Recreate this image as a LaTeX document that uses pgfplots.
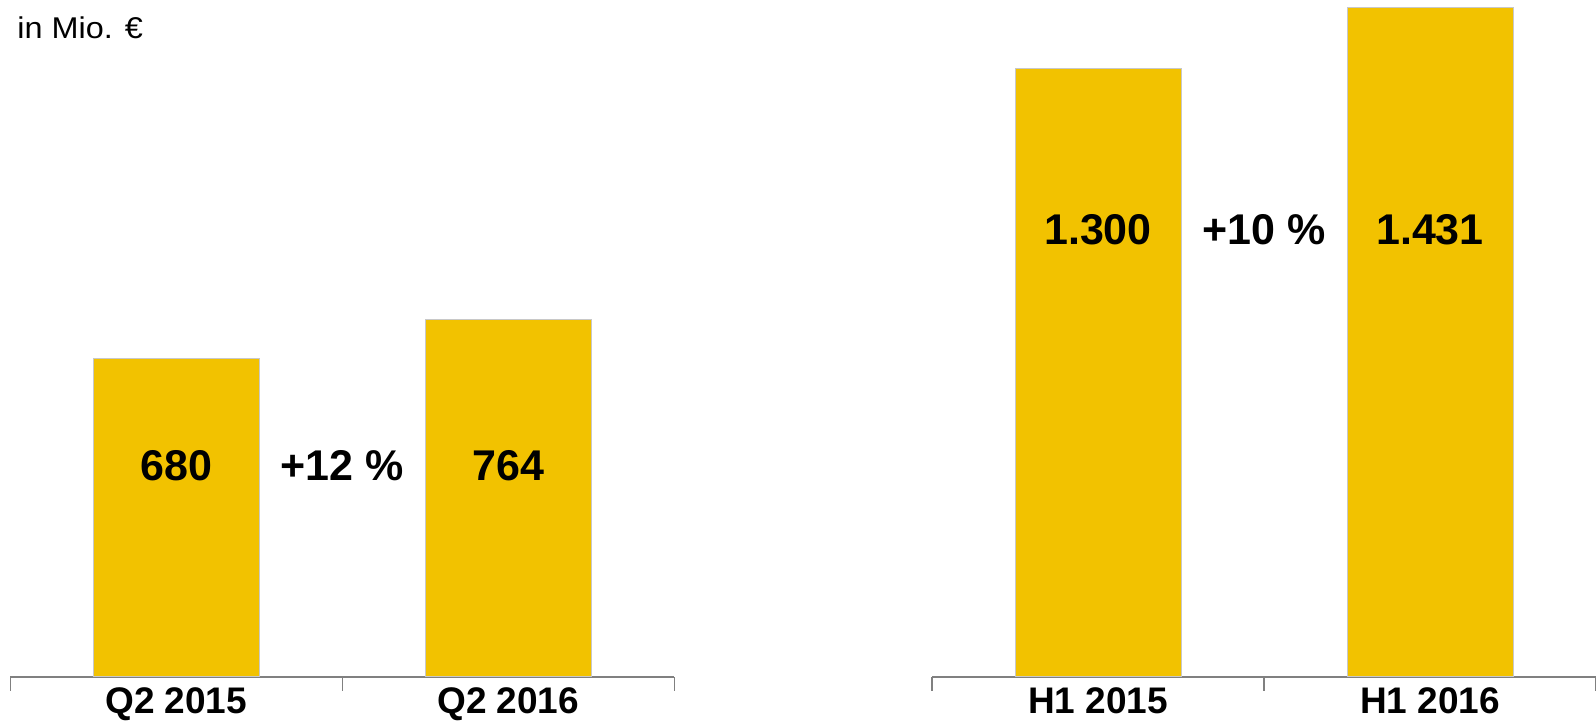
\documentclass[border=0pt]{standalone}
\usepackage{pgfplots}
\pgfplotsset{compat=1.18}
\usepackage{fontspec}
\setmainfont{Liberation Sans}

\definecolor{barY}{RGB}{242,194,0}
\definecolor{barEdge}{RGB}{200,200,200}
\definecolor{axGray}{RGB}{128,128,128}

\pgfplotsset{
  umsatz/.style={
    scale only axis,
    width=332pt,
    height=338.5pt,
    anchor=south west,
    ymin=0, ymax=1447,
    xmin=0, xmax=2,
    axis x line=bottom,
    axis y line=none,
    axis line style={axGray, line width=0.6pt, -},
    xtick={0,1,2},
    xticklabels={},
    tick align=outside,
    major tick length=7pt,
    tick style={axGray, line width=0.6pt},
    ybar,
    bar width=83pt,
    clip=false,
  },
}
\tikzset{
  vlab/.style={anchor=base, font=\fontsize{21.5}{23}\selectfont\bfseries},
  tlab/.style={anchor=base, font=\fontsize{18.5}{20}\selectfont\bfseries},
}

\begin{document}
\begin{tikzpicture}
\useasboundingbox (0,0) rectangle (798pt,360.5pt);

\node[anchor=base west, inner sep=0pt, xscale=1.08,
  font=\fontsize{15}{17}\selectfont] at (8.5pt,341pt) {in Mio. €};

% Quartal
\begin{axis}[umsatz, at={(5.1pt,22pt)}]
  \addplot[fill=barY, draw=barEdge, line width=0.5pt]
    coordinates {(0.5,680) (1.5,764)};
  \node[vlab] at (axis cs:0.5,421) {680};
  \node[vlab] at (axis cs:1,421) {+12 \%};
  \node[vlab] at (axis cs:1.5,421) {764};
  \node[tlab, yshift=-18.3pt] at (axis cs:0.5,0) {Q2 2015};
  \node[tlab, yshift=-18.3pt] at (axis cs:1.5,0) {Q2 2016};
\end{axis}

% Halbjahr
\begin{axis}[umsatz, at={(466pt,22pt)}]
  \addplot[fill=barY, draw=barEdge, line width=0.5pt]
    coordinates {(0.5,1300) (1.5,1431)};
  \node[vlab] at (axis cs:0.5,925) {1.300};
  \node[vlab] at (axis cs:1,925) {+10 \%};
  \node[vlab] at (axis cs:1.5,925) {1.431};
  \node[tlab, yshift=-18.3pt] at (axis cs:0.5,0) {H1 2015};
  \node[tlab, yshift=-18.3pt] at (axis cs:1.5,0) {H1 2016};
\end{axis}
\end{tikzpicture}
\end{document}
